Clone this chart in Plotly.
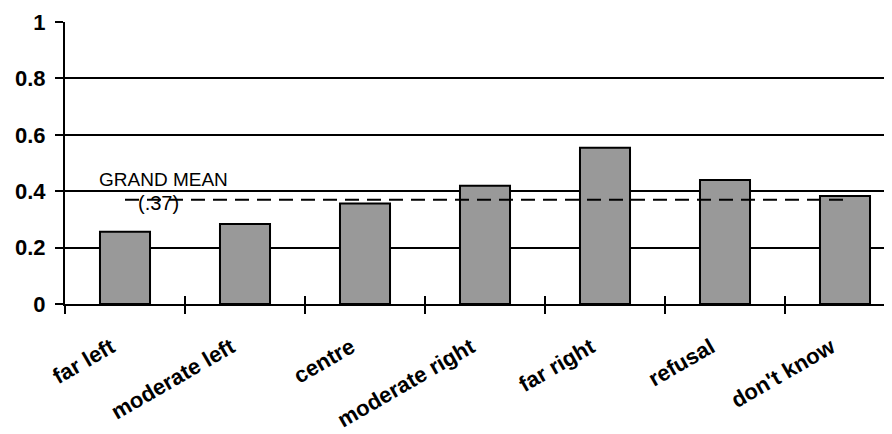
import plotly.graph_objects as go

categories = ["far left", "moderate left", "centre", "moderate right", "far right", "refusal", "don't know"]
values = [0.256, 0.284, 0.356, 0.419, 0.554, 0.440, 0.383]
grand_mean = 0.37
y_ticks = [0, 0.2, 0.4, 0.6, 0.8, 1]
y_tick_labels = ["0", "0.2", "0.4", "0.6", "0.8", "1"]

FONT = "Liberation Sans, Arial, sans-serif"

fig = go.Figure()
fig.add_trace(go.Bar(
    x=categories, y=values,
    marker=dict(color="#999999", line=dict(color="#000000", width=2)),
    showlegend=False, hoverinfo="skip",
))
fig.add_trace(go.Scatter(
    x=[categories[0], categories[-1]], y=[grand_mean, grand_mean],
    mode="lines", line=dict(color="#000000", width=2, dash="14px,8px"),
    showlegend=False, hoverinfo="skip",
))
# invisible trace carrying the overlay axis (for crossing tick marks)
fig.add_trace(go.Scatter(
    x=categories, y=values, xaxis="x2", mode="markers",
    marker=dict(opacity=0), showlegend=False, hoverinfo="skip",
))

xrange = [-0.5, 6.35]
fig.update_layout(
    width=884, height=426,
    margin=dict(l=57, r=5, t=14, b=130),
    paper_bgcolor="white", plot_bgcolor="white",
    bargap=0.583,
    font=dict(family=FONT, color="#000000"),
    xaxis=dict(
        type="category", categoryarray=categories, range=xrange, automargin=False,
        tickson="boundaries", ticks="outside", ticklen=8, tickwidth=2, tickcolor="#000",
        showline=True, linecolor="#000", linewidth=2,
        showgrid=False, zeroline=False,
        tickangle=-30, tickfont=dict(family=FONT, size=22, color="#000", weight="bold"),
        ticklabelstandoff=20, ticklabelshift=-14,
    ),
    xaxis2=dict(
        type="category", categoryarray=categories, range=xrange, automargin=False,
        overlaying="x", anchor="y", side="bottom",
        tickson="boundaries", ticks="inside", ticklen=8, tickwidth=2, tickcolor="#000",
        showticklabels=False, showgrid=False, showline=False, zeroline=False,
    ),
    yaxis=dict(
        range=[0, 1], tickmode="array", tickvals=y_ticks, ticktext=y_tick_labels,
        automargin=False,
        ticks="outside", ticklen=8, tickwidth=2, tickcolor="#000",
        showline=True, linecolor="#000", linewidth=2,
        showgrid=True, gridcolor="#000", gridwidth=1.5, zeroline=False,
        tickfont=dict(family=FONT, size=22, color="#000", weight="bold"),
        ticklabelstandoff=5,
    ),
    annotations=[
        dict(x=0.317, y=0.443, xref="x", yref="y", text="GRAND MEAN", showarrow=False,
             font=dict(family=FONT, size=19, color="#000")),
        dict(x=0.275, y=0.358, xref="x", yref="y", text="(.37)", showarrow=False,
             font=dict(family=FONT, size=20, color="#000")),
    ],
)

fig.write_html("out.html")
